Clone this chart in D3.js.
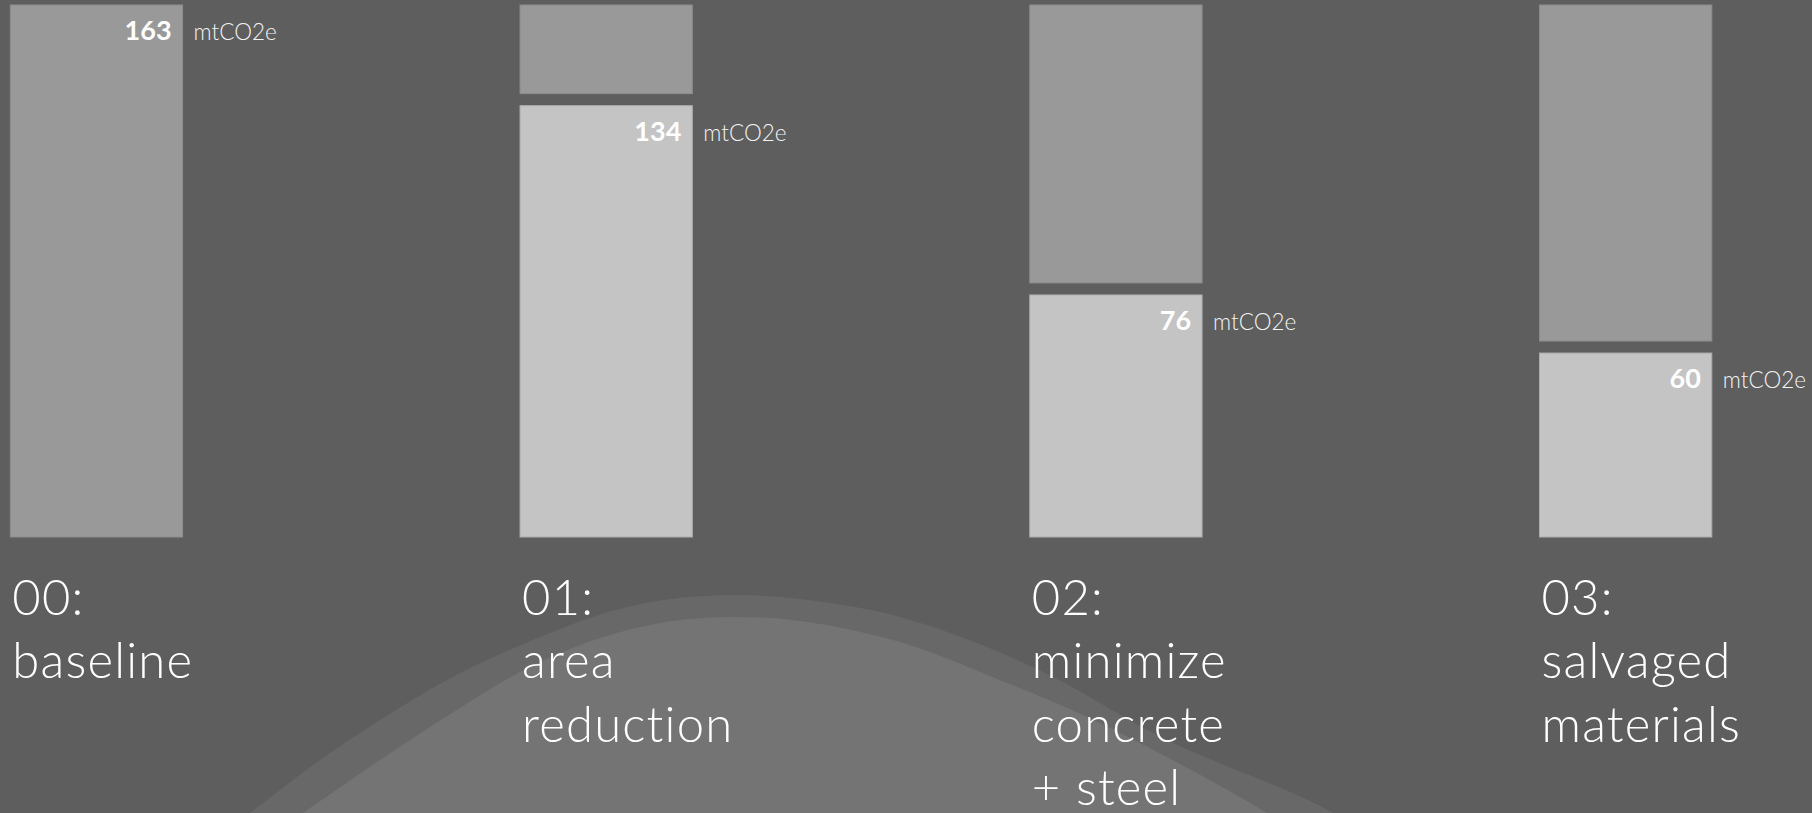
<!DOCTYPE html>
<html>
<head>
<meta charset="utf-8">
<script src="https://cdn.jsdelivr.net/npm/d3@7"></script>
<style>
  html, body { margin: 0; padding: 0; background: #5e5e5e; overflow: hidden; }
  svg { display: block; }
  text { font-variant-ligatures: none; font-feature-settings: "liga" 0, "clig" 0; }
</style>
</head>
<body>
<svg id="chart" width="1812" height="813"></svg>
<script>
// ---- data ----
const categories = ["00:", "01:", "02:", "03:"];
const categoryNames = [["baseline"], ["area", "reduction"], ["minimize", "concrete", "+ steel"], ["salvaged", "materials"]];
const baselineTotal = 163;
const values = [163, 134, 76, 58.2];          // bar heights
const valueLabels = ["163", "134", "76", "60"]; // printed labels
const unitLabel = "mtCO2e";

// decorative hill outline points
const hillOuter = [[200, 850], [250, 813], [320, 760], [391, 713], [460, 673], [521, 645], [605, 613], [670, 599], [736, 595], [800, 599], [900, 617], [1033, 667], [1167, 740], [1333, 813], [1380, 850]];
const hillInner = [[250, 850], [303, 813], [380, 760], [452, 713], [520, 672], [575, 647], [628, 630], [680, 620], [736, 617], [800, 621], [900, 642], [1000, 680], [1100, 723], [1267, 813], [1320, 850]];

// ---- layout ----
const W = 1812, H = 813;
const svg = d3.select("#chart");

const x = d3.scaleBand().domain(categories).range([10.3, 1711.8]).paddingInner(0.662).paddingOuter(0).align(0);
const y = d3.scaleLinear().domain([0, baselineTotal]).range([537, 5]);
const gap = 6;

// hill
const hillLine = d3.line().curve(d3.curveCatmullRom.alpha(0.5));
svg.append("path").attr("d", hillLine(hillOuter) + "Z").attr("fill", "#686868");
svg.append("path").attr("d", hillLine(hillInner) + "Z").attr("fill", "#747474");

const g = svg.append("g");
const bars = categories.map((c, i) => ({ c, v: values[i], label: valueLabels[i], names: categoryNames[i], i }));

bars.forEach(d => {
  const x0 = x(d.c), bw = x.bandwidth();
  if (d.i === 0) {
    g.append("rect").attr("x", x0).attr("y", y(baselineTotal)).attr("width", bw)
      .attr("height", y(0) - y(baselineTotal))
      .attr("fill", "#999999").attr("stroke", "#8c8c8c").attr("stroke-width", 1);
  } else {
    g.append("rect").attr("x", x0).attr("y", y(baselineTotal)).attr("width", bw)
      .attr("height", (y(d.v) - gap) - y(baselineTotal))
      .attr("fill", "#999999").attr("stroke", "#8c8c8c").attr("stroke-width", 1);
    g.append("rect").attr("x", x0).attr("y", y(d.v) + gap).attr("width", bw)
      .attr("height", y(0) - (y(d.v) + gap))
      .attr("fill", "#c4c4c4").attr("stroke", "#adadad").attr("stroke-width", 1);
  }
  const top = d.i === 0 ? y(baselineTotal) : y(d.v) + gap;
  g.append("text").attr("x", x0 + bw - 11).attr("y", top + 35)
    .attr("text-anchor", "end")
    .attr("font-family", "Lato, 'Open Sans', sans-serif").attr("font-weight", 700)
    .attr("font-size", 27).attr("fill", "#ffffff").text(d.label);
  g.append("text").attr("x", x0 + bw + 11).attr("y", top + 35)
    .attr("font-family", "Lato, 'Open Sans', sans-serif").attr("font-weight", 300)
    .attr("font-size", 22.5).attr("fill", "#f2f2f2").text(unitLabel);

  const t = g.append("text").attr("x", x0 + 2).attr("y", 615)
    .attr("font-family", "Lato, 'Open Sans', sans-serif").attr("font-weight", 300)
    .attr("font-size", 49).attr("letter-spacing", 1.2).attr("fill", "#ffffff");
  t.append("tspan").attr("x", x0 + 2).attr("y", 615).text(d.c);
  d.names.forEach((n, k) => {
    t.append("tspan").attr("x", x0 + 2).attr("y", 615 + 63.3 * (k + 1)).text(n);
  });
});
</script>
</body>
</html>
